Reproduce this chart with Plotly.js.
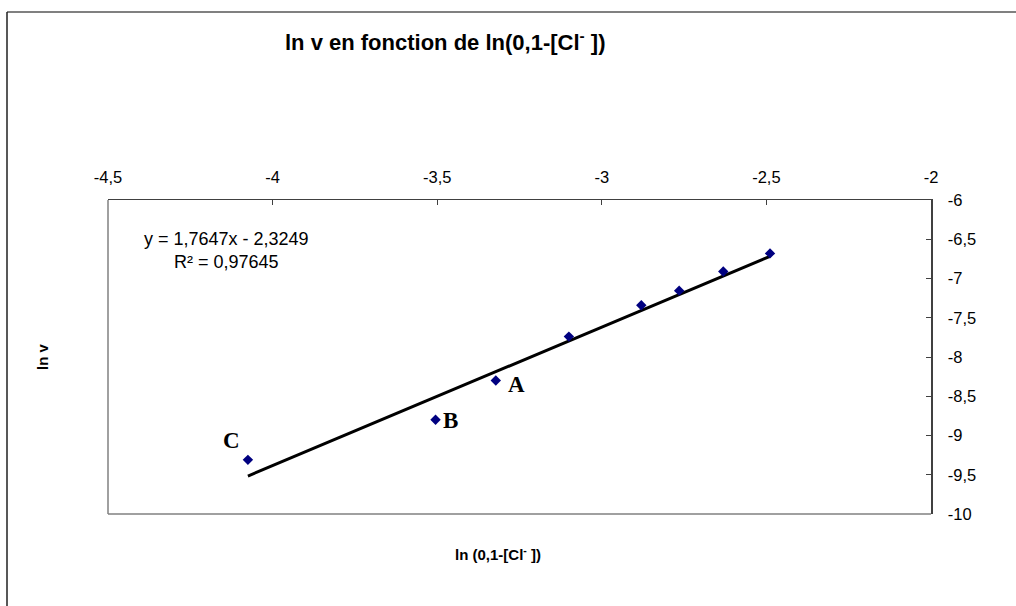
<!DOCTYPE html>
<html>
<head>
<meta charset="utf-8">
<script src="https://cdn.plot.ly/plotly-3.0.1.min.js"></script>
<style>
html,body{margin:0;padding:0;background:#fff;}
#chart{width:1016px;height:606px;}
</style>
</head>
<body>
<div id="chart"></div>
<script>
// data: ln(0,1-[Cl-]) and ln v
const lnC = [-4.075, -3.505, -3.322, -3.100, -2.880, -2.765, -2.631, -2.489];
const lnV = [-9.31, -8.80, -8.30, -7.74, -7.34, -7.155, -6.91, -6.68];
// trend line coefficients (from the chart's equation)
const slope = 1.7647;
const intercept = -2.3249;
const r2Text = "R² = 0,97645";
const eqText = "y = 1,7647x - 2,3249";
// point labels
const labelNames = ["C", "B", "A"];
const labelIdx = [0, 1, 2];
// ticks
const xTickVals = [-4.5, -4, -3.5, -3, -2.5, -2];
const xTickText = ["-4,5", "-4", "-3,5", "-3", "-2,5", "-2"];
const yTickVals = [-6, -6.5, -7, -7.5, -8, -8.5, -9, -9.5, -10];
const yTickText = ["-6", "-6,5", "-7", "-7,5", "-8", "-8,5", "-9", "-9,5", "-10"];

const xmin = Math.min(...lnC), xmax = Math.max(...lnC);
const trendX = [xmin, xmax];
const trendY = trendX.map(x => slope * x + intercept);

const traces = [
  {
    x: trendX, y: trendY, mode: 'lines', type: 'scatter',
    line: {color: '#000000', width: 3}, hoverinfo: 'skip'
  },
  {
    x: lnC, y: lnV, mode: 'markers', type: 'scatter',
    marker: {symbol: 'diamond', size: 8, color: '#000080'}
  }
];

const SANS = 'Liberation Sans, Arial, sans-serif';
const labelOffsets = {C: [-16, -19], B: [15, 1], A: [21, 4]};
const annotations = labelNames.map((n, k) => ({
  x: lnC[labelIdx[k]], y: lnV[labelIdx[k]], xref: 'x', yref: 'y',
  xanchor: 'center', yanchor: 'middle',
  text: '<b>' + n + '</b>', showarrow: false,
  xshift: labelOffsets[n][0], yshift: -labelOffsets[n][1],
  font: {family: 'Liberation Serif, DejaVu Serif, serif', size: 23, color: '#000'}
}));

const px = v => (v - 108) / 823;
const py = v => (514 - v) / 314;

annotations.push({
  xref: 'paper', yref: 'paper', x: px(226.5), y: py(250), xanchor: 'center', yanchor: 'middle',
  text: eqText + '<br>' + r2Text, showarrow: false, align: 'center',
  font: {family: SANS, size: 18, color: '#000'}
});
annotations.push({
  xref: 'paper', yref: 'paper', x: px(498), y: py(553), xanchor: 'center', yanchor: 'middle',
  text: '<b>ln (0,1-[Cl<sup>-</sup> ])</b>', showarrow: false,
  font: {family: SANS, size: 15, color: '#000'}
});
annotations.push({
  xref: 'paper', yref: 'paper', x: px(42), y: 0.5, xanchor: 'center', yanchor: 'middle',
  text: '<b>ln v</b>', showarrow: false, textangle: -90,
  font: {family: SANS, size: 15, color: '#000'}
});
annotations.push({
  xref: 'paper', yref: 'paper', x: px(445), y: py(41), xanchor: 'center', yanchor: 'middle',
  text: '<b>ln v en fonction de ln(0,1-[Cl<sup>-</sup> ])</b>', showarrow: false,
  font: {family: SANS, size: 22, color: '#000'}
});

const shapes = [
  // plot-area frame (gray left & bottom)
  {type: 'line', xref: 'paper', yref: 'paper', x0: 0, x1: 0, y0: 0, y1: 1, line: {color: '#808080', width: 1.5}},
  {type: 'line', xref: 'paper', yref: 'paper', x0: 0, x1: 1, y0: 0, y1: 0, line: {color: '#808080', width: 1.5}},
  // outer chart border
  {type: 'line', xref: 'paper', yref: 'paper', x0: px(7), x1: px(1030), y0: py(12), y1: py(12), line: {color: '#808080', width: 2}},
  {type: 'line', xref: 'paper', yref: 'paper', x0: px(7), x1: px(7), y0: py(12), y1: py(620), line: {color: '#202020', width: 1.5}}
];

const layout = {
  width: 1016, height: 606,
  margin: {l: 108, r: 85, t: 200, b: 92},
  paper_bgcolor: '#fff', plot_bgcolor: '#fff',
  showlegend: false,
  font: {family: SANS, size: 16, color: '#000'},
  xaxis: {
    range: [-4.5, -2], side: 'top', tickvals: xTickVals, ticktext: xTickText,
    ticks: 'inside', ticklen: 5, tickcolor: '#404040', showgrid: false, zeroline: false,
    showline: true, linecolor: '#404040', linewidth: 1.5,
    tickfont: {size: 16.5}, ticklabelstandoff: 9
  },
  yaxis: {
    range: [-10, -6], side: 'right', tickvals: yTickVals, ticktext: yTickText,
    ticks: 'inside', ticklen: 5, tickcolor: '#404040', showgrid: false, zeroline: false,
    showline: true, linecolor: '#404040', linewidth: 1.5,
    tickfont: {size: 16.5}, ticklabelstandoff: 12
  },
  shapes: shapes,
  annotations: annotations
};

Plotly.newPlot('chart', traces, layout, {staticPlot: true, displayModeBar: false});
</script>
</body>
</html>
